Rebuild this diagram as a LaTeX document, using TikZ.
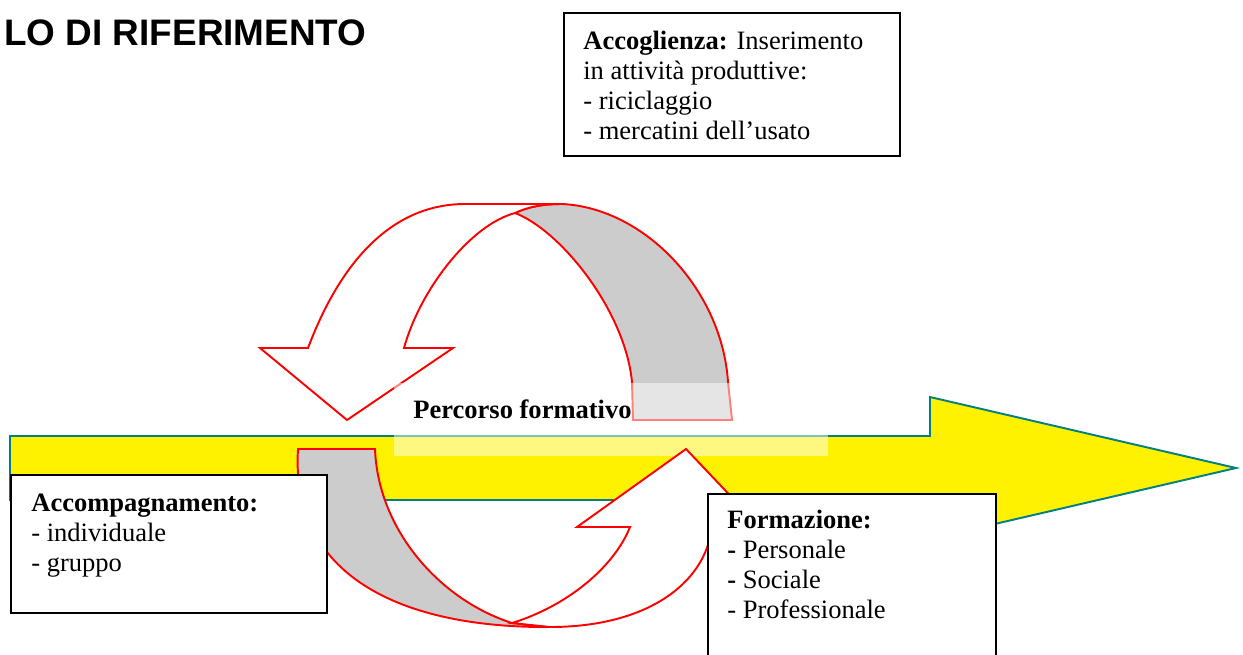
\documentclass[tikz,border=0pt]{standalone}
\usepackage{fontspec}
\setmainfont{Liberation Serif}
\setsansfont{Liberation Sans}
\tikzset{every picture/.style={/utils/exec={\fontsize{15.1}{17.07}\selectfont}}}
\usetikzlibrary{calc}
\usetikzlibrary{positioning}
\definecolor{shaftteal}{RGB}{0,128,128}
\definecolor{backgrey}{RGB}{204,204,204}

\begin{document}
\begin{tikzpicture}[x=0.02cm, y=-0.02cm,
  bigarrow/.style={fill=yellow, draw=shaftteal, line width=1.1pt},
  turn/.style={draw=red, line width=1.1pt, fill=white, line join=miter},
  turnback/.style={turn, fill=backgrey},
  frame/.style={draw, line width=1.3pt, fill=white, anchor=north west, inner sep=0pt},
  txt/.style={align=left, inner sep=0pt}
  ]

  \clip (0,0) rectangle (1243,654);

  \node [anchor=base west, inner sep=0pt, font=\sffamily\bfseries\fontsize{21}{25}\selectfont] (title) at (4,45) {LO DI RIFERIMENTO};

  \draw [bigarrow] (10,436) -- (930,436) -- (930,397) -- (1236,468) -- (930,539) -- (930,500) -- (10,500) -- cycle;

  % upper turn, going back to the left
  \draw [turnback] (515,213) .. controls (530,206) and (545,204) .. (562,204)
    .. controls (645,208) and (722,290) .. (728,382) -- (732,420) -- (633,420) -- (632,382)
    .. controls (625,310) and (560,230) .. (515,213) -- cycle;
  \draw [turn] (308,348) .. controls (345,250) and (400,204) .. (465,204) -- (562,204)
    .. controls (545,204) and (530,206) .. (515,213)
    .. controls (470,225) and (420,290) .. (404,348)
    -- (453,348) -- (347,420) -- (260,348) -- cycle;

  \fill [white, opacity=0.5] (394,383) rectangle (828,456);
  \node [anchor=base west, inner sep=0pt, font=\bfseries] (percorso) at (413,418) {Percorso formativo};

  % lower turn, going forward to the right
  \draw [turnback] (298,449) -- (375,449) .. controls (378,530) and (440,600) .. (512,623)
    -- (550,627) .. controls (400,628) and (290,575) .. (298,449) -- cycle;
  \draw [turn] (512,623) -- (550,627) .. controls (645,627) and (705,585) .. (712,527)
    -- (760,527) -- (686,449) -- (577,527) -- (630,527)
    .. controls (615,565) and (570,605) .. (512,623) -- cycle;

  \node [frame, minimum width=6.72cm, minimum height=2.86cm] (accbox) at (563,12) {};
  \node [txt, below right=0.37cm and 0.4cm of accbox.north west] (acctext)
    {\textbf{Accoglienza:} Inserimento\\in attività produttive:\\- riciclaggio\\- mercatini dell’usato};

  \node [frame, minimum width=6.32cm, minimum height=2.76cm] (accompbox) at (10,474) {};
  \node [txt, below right=0.39cm and 0.42cm of accompbox.north west] (accomptext)
    {\textbf{Accompagnamento:}\\- individuale\\- gruppo};

  \node [frame, minimum width=5.76cm, minimum height=4cm] (formbox) at (707,493) {};
  \node [txt, below right=0.34cm and 0.4cm of formbox.north west] (formtext)
    {\textbf{Formazione:}\\\textbf{-} Personale\\\textbf{-} Sociale\\- Professionale};
\end{tikzpicture}
\end{document}
